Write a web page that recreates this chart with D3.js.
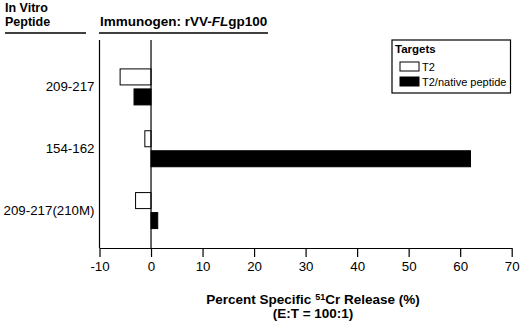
<!DOCTYPE html>
<html>
<head>
<meta charset="utf-8">
<script src="https://cdn.jsdelivr.net/npm/d3@7"></script>
<style>
  body { margin: 0; background: #fff; }
  svg { display: block; font-family: "Liberation Sans", Arial, Helvetica, sans-serif; }
</style>
</head>
<body>
<div id="chart"></div>
<script>
// peptides on the y axis, two target series
const peptides = ['209-217', '154-162', '209-217(210M)'];
const targets = ['T2', 'T2/native peptide'];
const t2Values = [-6, -1.2, -3];
const nativeValues = [-3.3, 62, 1.3];
const xTicks = [-10, 0, 10, 20, 30, 40, 50, 60, 70];

const width = 520, height = 323;
const svg = d3.select('#chart').append('svg')
  .attr('width', width)
  .attr('height', height);

const x = d3.scaleLinear().domain([-10, 70]).range([99.5, 511.7]);
const y = d3.scaleBand().domain(peptides).range([56, 241.5]);
const inner = d3.scaleBand().domain(targets).range([0, 36]).paddingInner(0.2);
const fills = { 'T2': '#fff', 'T2/native peptide': '#000' };

const axisY = 248, plotTop = 40;

// bars
const rows = [];
peptides.forEach((p, i) => {
  rows.push({ p, s: targets[0], v: t2Values[i] });
  rows.push({ p, s: targets[1], v: nativeValues[i] });
});
const off = (y.bandwidth() - 36) / 2;
svg.append('g').selectAll('rect')
  .data(rows)
  .join('rect')
  .attr('x', d => x(Math.min(0, d.v)))
  .attr('y', d => y(d.p) + off + inner(d.s))
  .attr('width', d => Math.abs(x(d.v) - x(0)))
  .attr('height', inner.bandwidth())
  .attr('fill', d => fills[d.s])
  .attr('stroke', '#000')
  .attr('stroke-width', 1);

// x axis
const xAxis = svg.append('g')
  .attr('transform', `translate(0,${axisY})`)
  .call(d3.axisBottom(x).tickValues(xTicks).tickSize(9).tickSizeOuter(0).tickPadding(5)
    .tickFormat(d => String(d)));
xAxis.select('.domain').attr('stroke-width', 1.2);
xAxis.selectAll('.tick line').attr('stroke-width', 1.2);
xAxis.selectAll('text').attr('font-size', 13.3).attr('fill', '#000');

// left axis line and zero line
svg.append('line')
  .attr('x1', x(-10)).attr('x2', x(-10))
  .attr('y1', plotTop).attr('y2', axisY)
  .attr('stroke', '#000').attr('stroke-width', 1.2);
svg.append('line')
  .attr('x1', x(0)).attr('x2', x(0))
  .attr('y1', plotTop).attr('y2', axisY)
  .attr('stroke', '#000').attr('stroke-width', 1.2);

// category labels
const yAxis = svg.append('g')
  .attr('transform', `translate(${x(-10)},0)`)
  .call(d3.axisLeft(y).tickSize(0).tickPadding(5));
yAxis.select('.domain').remove();
yAxis.selectAll('text').attr('font-size', 13.3).attr('fill', '#000');

// headers
const hdr = svg.append('g').attr('font-weight', 'bold').attr('font-size', 13.5);
hdr.append('text').attr('x', 5).attr('y', 11.5).attr('font-size', 12.5).text('In Vitro');
hdr.append('text').attr('x', 5).attr('y', 26).attr('font-size', 12.5).text('Peptide');
hdr.append('text').attr('x', 100).attr('y', 26)
  .call(t => {
    t.append('tspan').text('Immunogen: rVV-');
    t.append('tspan').attr('font-style', 'italic').text('FL');
    t.append('tspan').text('gp100');
  });
svg.append('line').attr('x1', 5).attr('x2', 86).attr('y1', 33).attr('y2', 33)
  .attr('stroke', '#000').attr('stroke-width', 1.3);
svg.append('line').attr('x1', 99).attr('x2', 268).attr('y1', 33).attr('y2', 33)
  .attr('stroke', '#000').attr('stroke-width', 1.3);

// axis title
const title = svg.append('text')
  .attr('x', 313).attr('text-anchor', 'middle')
  .attr('font-weight', 'bold').attr('font-size', 13.5);
title.append('tspan').attr('x', 313).attr('y', 304).text('Percent Specific ')
  .append('tspan').attr('font-size', 9).attr('dy', -4.5).text('51');
title.append('tspan').attr('dy', 4.5).text('Cr Release (%)');
svg.append('text')
  .attr('x', 313).attr('y', 318).attr('text-anchor', 'middle')
  .attr('font-weight', 'bold').attr('font-size', 13.5)
  .text('(E:T = 100:1)');

// legend
const legend = svg.append('g').attr('transform', 'translate(392,40)');
legend.append('rect')
  .attr('width', 118.5).attr('height', 53)
  .attr('fill', '#fff').attr('stroke', '#000').attr('stroke-width', 1.2);
legend.append('text').attr('x', 3).attr('y', 12.5)
  .attr('font-weight', 'bold').attr('font-size', 11.5).text('Targets');
targets.forEach((t, i) => {
  legend.append('rect')
    .attr('x', 8).attr('y', 22 + i * 15)
    .attr('width', 19).attr('height', 9)
    .attr('fill', fills[t]).attr('stroke', '#000');
  legend.append('text')
    .attr('x', 30).attr('y', 30.5 + i * 15)
    .attr('font-size', 11).text(t);
});
</script>
</body>
</html>
